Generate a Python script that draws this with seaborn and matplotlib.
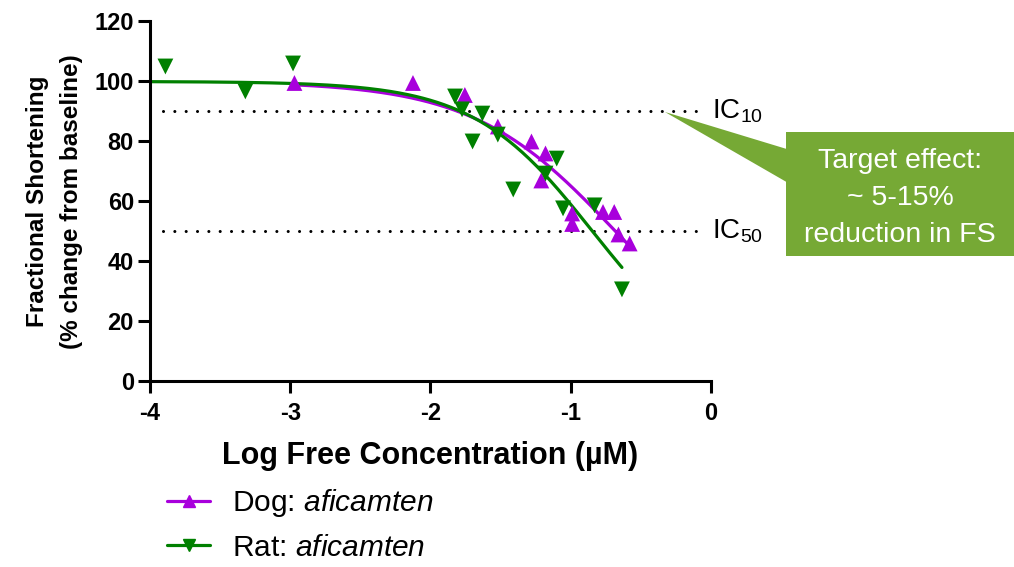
import numpy as np
import pandas as pd
import seaborn as sns
import matplotlib.pyplot as plt
from matplotlib.lines import Line2D
from matplotlib.patches import Polygon, Rectangle

# data
dog_logc = [-2.97, -2.125, -1.755, -1.52, -1.28, -1.18, -1.21, -0.99, -0.99, -0.77, -0.69, -0.66, -0.58]
dog_fs = [99.5, 99.5, 95.5, 85, 80, 76, 67, 56, 52.5, 56.5, 56.5, 49, 46]
rat_logc = [-3.89, -3.32, -2.98, -1.825, -1.775, -1.70, -1.63, -1.52, -1.41, -1.18, -1.10, -1.055, -0.83, -0.635]
rat_fs = [105, 96.7, 106, 95, 90.7, 80, 89.3, 82.3, 64, 69.3, 74.3, 57.7, 58.7, 30.7]

# fitted curves (4PL, top 100, bottom 0)
dog_logic50, dog_hill, dog_span = -0.68, 0.85, (-2.97, -0.56)
rat_logic50, rat_hill, rat_span = -0.844, 1.016, (-4.0, -0.635)

ic_levels = [90, 50]
ic_labels = ["IC$_{10}$", "IC$_{50}$"]

species = ["Dog", "Rat"]
colors = {"Dog": "#A800DC", "Rat": "#008000"}
markers = {"Dog": "^", "Rat": "v"}


def four_pl(x, logic50, hill, top=100, bottom=0):
    return bottom + (top - bottom) / (1 + 10 ** ((x - logic50) * hill))


points = pd.concat([
    pd.DataFrame({"logc": dog_logc, "fs": dog_fs, "species": "Dog"}),
    pd.DataFrame({"logc": rat_logc, "fs": rat_fs, "species": "Rat"}),
])
xd = np.linspace(*dog_span, 200)
xr = np.linspace(*rat_span, 200)
curves = pd.concat([
    pd.DataFrame({"logc": xd, "fs": four_pl(xd, dog_logic50, dog_hill), "species": "Dog"}),
    pd.DataFrame({"logc": xr, "fs": four_pl(xr, rat_logic50, rat_hill), "species": "Rat"}),
])

sns.set_style("ticks")
plt.rcParams["font.family"] = ["Liberation Sans", "DejaVu Sans"]
plt.rcParams["mathtext.fontset"] = "custom"
plt.rcParams["mathtext.rm"] = "Liberation Sans"
plt.rcParams["mathtext.it"] = "Liberation Sans:italic"
plt.rcParams["mathtext.default"] = "regular"
plt.rcParams["axes.unicode_minus"] = False
plt.rcParams["text.color"] = "black"
plt.rcParams["axes.labelcolor"] = "black"
plt.rcParams["xtick.color"] = "black"
plt.rcParams["ytick.color"] = "black"

fig = plt.figure(figsize=(10.14, 5.67), dpi=100)
ax = fig.add_axes([0.1479, 0.3272, 0.5533, 0.6349])

for lvl in ic_levels:
    ax.plot([-3.91, -0.08], [lvl, lvl], color="black", lw=2.2,
            linestyle=(0, (0.01, 3.7)), dash_capstyle="round", zorder=1)

sns.lineplot(data=curves, x="logc", y="fs", hue="species", palette=colors,
             lw=2.3, legend=False, ax=ax, sort=False, estimator=None, zorder=2)
sns.scatterplot(data=points, x="logc", y="fs", hue="species", style="species",
                markers=markers, palette=colors, s=130, linewidth=0,
                legend=False, ax=ax, zorder=3)

ax.set_xlim(-4, 0)
ax.set_ylim(0, 120)
ax.set_xticks([-4, -3, -2, -1, 0])
ax.set_yticks(range(0, 121, 20))
sns.despine(ax=ax)
for s in ["left", "bottom"]:
    ax.spines[s].set_linewidth(2.2)
    ax.spines[s].set_color("black")
ax.tick_params(length=8.5, width=2.2, labelsize=17, color="black", labelcolor="black", pad=3)
ax.tick_params(axis="x", pad=6)
for lab in ax.get_xticklabels() + ax.get_yticklabels():
    lab.set_fontweight("bold")

ax.set_xlabel("Log Free Concentration (µM)", fontsize=22, fontweight="bold", labelpad=12)
ax.set_ylabel("Fractional Shortening\n(% change from baseline)", fontsize=17.5,
              fontweight="bold", labelpad=8, linespacing=1.65)

for lvl, lab in zip(ic_levels, ic_labels):
    ax.text(0.01, lvl, lab, fontsize=20, va="center", ha="left", clip_on=False)

# callout
W, H = 1014, 567
def fp(x, y):
    return (x / W, 1 - y / H)

green = "#76A935"
fig.patches.append(Polygon([fp(665, 112), fp(790, 150), fp(790, 184)], closed=True,
                           transform=fig.transFigure, facecolor=green, edgecolor="none"))
fig.patches.append(Rectangle(fp(786, 256), 228 / W, 124 / H, transform=fig.transFigure,
                             facecolor=green, edgecolor="none"))
fig.text(*fp(900, 198), "Target effect:\n~ 5-15%\nreduction in FS", color="white",
         fontsize=20.5, ha="center", va="center", linespacing=1.55)

handles = [Line2D([], [], color=colors[s], marker=markers[s], markersize=8, lw=2.3)
           for s in species]
labels = ["Dog: $\\mathit{aficamten}$", "Rat: $\\mathit{aficamten}$"]
fig.legend(handles, labels, loc="upper left", bbox_to_anchor=fp(167, 487),
           frameon=False, fontsize=21.5, handlelength=1.45, handletextpad=0.72,
           labelspacing=0.5, borderpad=0, borderaxespad=0)

fig.savefig("out.png", dpi=100)
